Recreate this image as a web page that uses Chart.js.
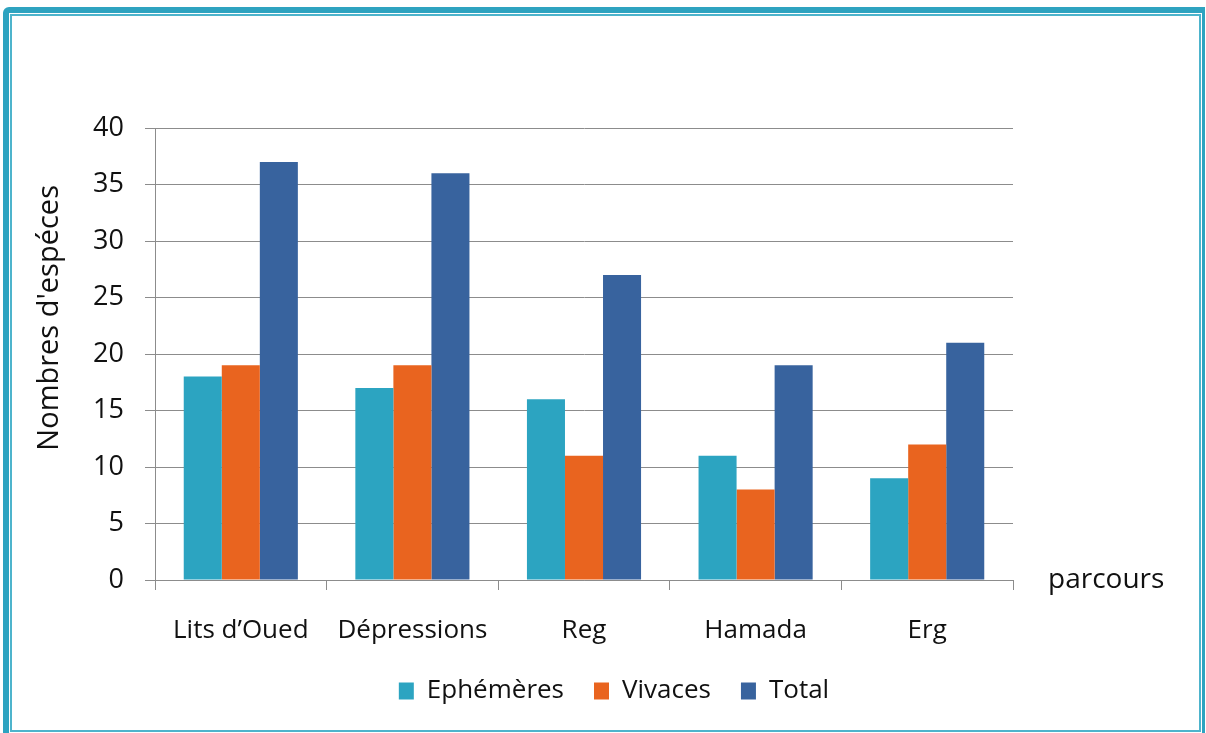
<!DOCTYPE html>
<html>
<head>
<meta charset="utf-8">
<script src="https://cdn.jsdelivr.net/npm/chart.js"></script>
<style>
    html, body { margin: 0; padding: 0; background: #fff; }
    #frame {
        position: absolute; left: 3px; top: 7px; width: 1202px; height: 729px;
        box-sizing: border-box; border-style: solid; border-color: #2ea3c0;
        border-width: 6px 3px 3px 6px; border-top-left-radius: 6px;
    }
    #frame .inner {
        position: absolute; left: 1px; top: 1px; right: 1px; bottom: 1px;
        border: 2px solid #4db4cc;
    }
    #wrap { position: absolute; left: 0; top: 0; width: 1206px; height: 733px; }
</style>
</head>
<body>
<div id="frame"><div class="inner"></div></div>
<div id="wrap"><canvas id="chart"></canvas></div>
<script>
const categories = ['Lits d\u2019Oued', 'Dépressions', 'Reg', 'Hamada', 'Erg'];
const ephemeres = [18, 17, 16, 11, 9];
const vivaces = [19, 19, 11, 8, 12];
const total = [37, 36, 27, 19, 21];
const seriesNames = ['Ephémères', 'Vivaces', 'Total'];
const yTicks = [0, 5, 10, 15, 20, 25, 30, 35, 40];

const fontFamily = '"Open Sans", sans-serif';
const gridColor = '#8c8c8c';

// y title and the "parcours" label sit outside the axes, draw them by hand
const extraText = {
    id: 'extraText',
    afterDraw(chart) {
        const ctx = chart.ctx;
        const area = chart.chartArea;
        ctx.save();
        ctx.fillStyle = '#111';
        ctx.textBaseline = 'middle';
        ctx.textAlign = 'left';
        ctx.font = '28px ' + fontFamily;
        ctx.fillText('parcours', area.right + 35, area.bottom);
        ctx.font = '29px ' + fontFamily;
        ctx.translate(50, area.top + (area.bottom - area.top) * 0.42);
        ctx.rotate(-Math.PI / 2);
        ctx.textAlign = 'center';
        ctx.fillText('Nombres d\'espéces', 0, 0);
        ctx.restore();
    }
};

new Chart(document.getElementById('chart'), {
    type: 'bar',
    data: {
        labels: categories,
        datasets: [
            { label: seriesNames[0], data: ephemeres, backgroundColor: '#2ca4c1' },
            { label: seriesNames[1], data: vivaces, backgroundColor: '#e9641f' },
            { label: seriesNames[2], data: total, backgroundColor: '#38639e' }
        ]
    },
    options: {
        responsive: true,
        maintainAspectRatio: false,
        animation: false,
        layout: { padding: { left: 32, right: 10, top: 128, bottom: 19 } },
        datasets: { bar: { categoryPercentage: 0.665, barPercentage: 1 } },
        scales: {
            x: {
                afterFit(scale) { scale.height = 68; },
                grid: { display: true, drawOnChartArea: false, drawTicks: true, tickLength: 10, color: gridColor, offset: true },
                border: { color: gridColor },
                ticks: { color: '#111', padding: 25, font: { family: fontFamily, size: 26 } }
            },
            y: {
                min: 0, max: 40,
                afterFit(scale) { scale.width = 123; },
                afterBuildTicks(scale) { scale.ticks = yTicks.map(v => ({ value: v })); },
                grid: { color: gridColor, tickLength: 10 },
                border: { color: gridColor },
                ticks: { color: '#111', padding: 21, font: { family: fontFamily, size: 27 } }
            },
            side: {
                position: 'right',
                display: true,
                afterFit(scale) { scale.width = 183; },
                grid: { display: false },
                border: { display: false },
                ticks: { display: false }
            }
        },
        plugins: {
            legend: {
                position: 'bottom',
                labels: {
                    color: '#111', boxWidth: 15, boxHeight: 17, padding: 30,
                    font: { family: fontFamily, size: 26 }
                }
            },
            tooltip: { enabled: false }
        }
    },
    plugins: [extraText]
});
</script>
</body>
</html>
